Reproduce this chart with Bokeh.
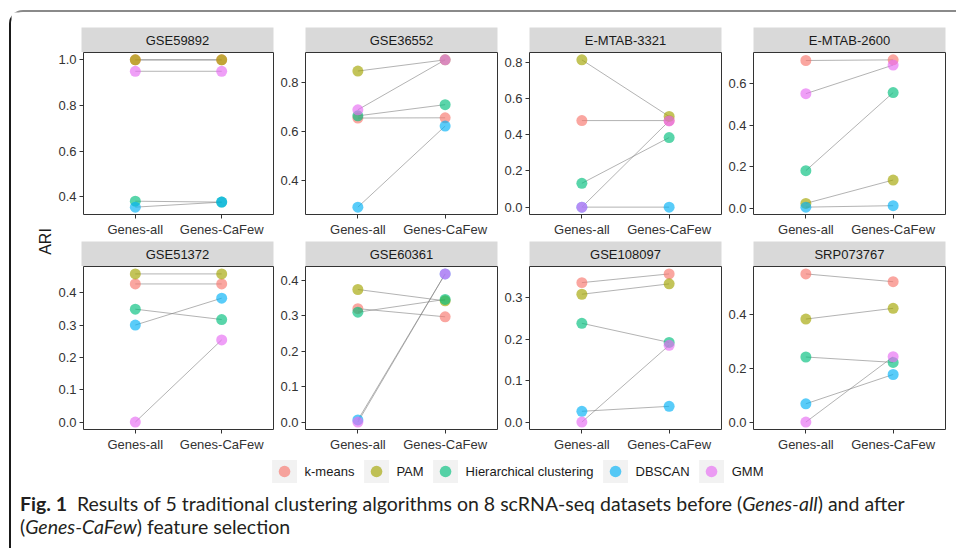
import math
import numpy as np
from bokeh.plotting import figure
from bokeh.models import (Range1d, FixedTicker, PrintfTickFormatter, ColumnDataSource,
                          Label, Legend, LegendItem, Div, Spacer)
from bokeh.layouts import row, column
from bokeh.embed import file_html
from bokeh.resources import INLINE
from bokeh.core.properties import value

# ---------------- data ----------------
CONDITIONS = ["Genes-all", "Genes-CaFew"]
ALGORITHMS = ["k-means", "PAM", "Hierarchical clustering", "DBSCAN", "GMM"]
COLORS = ["#F8766D", "#A3A500", "#00BF7D", "#00B0F6", "#E76BF3"]

DATASETS_ROW1 = ["GSE59892", "GSE36552", "E-MTAB-3321", "E-MTAB-2600"]
DATASETS_ROW2 = ["GSE51372", "GSE60361", "GSE108097", "SRP073767"]

# ARI values, order: k-means, PAM, Hierarchical clustering, DBSCAN, GMM
GSE59892_ALL = [1.000, 1.000, 0.381, 0.355, 0.950]
GSE59892_CAFEW = [1.000, 1.000, 0.377, 0.377, 0.950]
GSE36552_ALL = [0.655, 0.848, 0.664, 0.289, 0.689]
GSE36552_CAFEW = [0.656, 0.894, 0.710, 0.622, 0.894]
EMTAB3321_ALL = [0.479, 0.815, 0.132, 0.000, 0.000]
EMTAB3321_CAFEW = [0.479, 0.502, 0.385, 0.000, 0.477]
EMTAB2600_ALL = [0.710, 0.025, 0.182, 0.007, 0.551]
EMTAB2600_CAFEW = [0.713, 0.137, 0.556, 0.014, 0.688]
GSE51372_ALL = [0.427, 0.458, 0.349, 0.300, 0.000]
GSE51372_CAFEW = [0.427, 0.458, 0.317, 0.383, 0.254]
GSE60361_ALL = [0.320, 0.374, 0.310, 0.006, 0.000]
GSE60361_CAFEW = [0.297, 0.342, 0.346, 0.418, 0.418]
GSE108097_ALL = [0.336, 0.308, 0.238, 0.026, 0.000]
GSE108097_CAFEW = [0.357, 0.333, 0.192, 0.038, 0.185]
SRP073767_ALL = [0.551, 0.383, 0.242, 0.068, 0.000]
SRP073767_CAFEW = [0.522, 0.423, 0.222, 0.177, 0.243]

# y tick values per panel
GSE59892_TICKS = [0.4, 0.6, 0.8, 1.0]
GSE36552_TICKS = [0.4, 0.6, 0.8]
EMTAB3321_TICKS = [0.0, 0.2, 0.4, 0.6, 0.8]
EMTAB2600_TICKS = [0.0, 0.2, 0.4, 0.6]
GSE51372_TICKS = [0.0, 0.1, 0.2, 0.3, 0.4]
GSE60361_TICKS = [0.0, 0.1, 0.2, 0.3, 0.4]
GSE108097_TICKS = [0.0, 0.1, 0.2, 0.3]
SRP073767_TICKS = [0.0, 0.2, 0.4]

ROW1 = [(GSE59892_ALL, GSE59892_CAFEW, GSE59892_TICKS),
        (GSE36552_ALL, GSE36552_CAFEW, GSE36552_TICKS),
        (EMTAB3321_ALL, EMTAB3321_CAFEW, EMTAB3321_TICKS),
        (EMTAB2600_ALL, EMTAB2600_CAFEW, EMTAB2600_TICKS)]
ROW2 = [(GSE51372_ALL, GSE51372_CAFEW, GSE51372_TICKS),
        (GSE60361_ALL, GSE60361_CAFEW, GSE60361_TICKS),
        (GSE108097_ALL, GSE108097_CAFEW, GSE108097_TICKS),
        (SRP073767_ALL, SRP073767_CAFEW, SRP073767_TICKS)]

# ---------------- style ----------------
FONT = "Liberation Sans"
FRAME_W = 192
LEFTS = [26, 31, 31, 31]
RIGHT = 1
BOTTOM = 27
STRIP_H = 25
TOP1 = 15


def make_strip(name, top, left):
    s = figure(width=left + FRAME_W + RIGHT, height=STRIP_H + top,
               x_range=Range1d(0, 1), y_range=Range1d(0, 1),
               x_axis_location=None, y_axis_location=None,
               min_border_left=left, min_border_right=RIGHT,
               min_border_top=top, min_border_bottom=0,
               background_fill_color="#d9d9d9", border_fill_color="white",
               outline_line_color=None, title=None,
               output_backend="svg", toolbar_location=None)
    s.grid.visible = False
    s.text(x=[0.5], y=[0.5], text=[name], text_align="center", text_baseline="middle",
           text_font=value(FONT), text_font_size="13px", text_color="#1a1a1a")
    return s


def make_panel(all_vals, cafew_vals, ticks, frame_h, left):
    vals = all_vals + cafew_vals
    lo, hi = min(vals), max(vals)
    pad = 0.05 * (hi - lo)
    p = figure(width=left + FRAME_W + RIGHT, height=frame_h + BOTTOM,
               x_range=Range1d(0.4, 2.6), y_range=Range1d(lo - pad, hi + pad),
               min_border_left=left, min_border_right=RIGHT,
               min_border_top=0, min_border_bottom=BOTTOM,
               outline_line_color="#333333", outline_line_width=1,
               background_fill_color="white", border_fill_color="white",
               title=None, output_backend="svg", toolbar_location=None)
    p.grid.visible = False
    xs = [i + 1 for i in range(len(CONDITIONS))]
    for a, c in zip(all_vals, cafew_vals):
        p.line(xs, [a, c], line_color="#808080", line_alpha=0.6, line_width=1)
    src = ColumnDataSource(dict(x=[xs[0]] * len(all_vals) + [xs[1]] * len(cafew_vals),
                                y=all_vals + cafew_vals, c=COLORS + COLORS))
    p.scatter("x", "y", source=src, size=11, fill_color="c", fill_alpha=0.65,
              line_color=None)
    p.xaxis.ticker = FixedTicker(ticks=xs)
    p.xaxis.major_label_overrides = {x: lab for x, lab in zip(xs, CONDITIONS)}
    p.yaxis.ticker = FixedTicker(ticks=ticks)
    p.yaxis.formatter = PrintfTickFormatter(format="%.1f")
    for ax in (p.xaxis[0], p.yaxis[0]):
        ax.axis_line_color = None
        ax.major_tick_out = 4
        ax.major_tick_in = 0
        ax.minor_tick_out = 0
        ax.minor_tick_in = 0
        ax.major_tick_line_color = "#333333"
        ax.major_label_text_font = FONT
        ax.major_label_text_font_size = "13px"
        ax.major_label_text_color = "#333333"
        ax.major_label_standoff = 3
    return p


strips1 = row(*[make_strip(n, TOP1, l) for n, l in zip(DATASETS_ROW1, LEFTS)])
panels1 = row(*[make_panel(a, c, t, 162, l) for (a, c, t), l in zip(ROW1, LEFTS)])
strips2 = row(*[make_strip(n, 0, l) for n, l in zip(DATASETS_ROW2, LEFTS)])
panels2 = row(*[make_panel(a, c, t, 163, l) for (a, c, t), l in zip(ROW2, LEFTS)])
grid = column(strips1, panels1, strips2, panels2)

GRID_H = (STRIP_H + TOP1) + (162 + BOTTOM) + STRIP_H + (163 + BOTTOM)
ARI_W = 44
ari = figure(width=ARI_W, height=GRID_H, x_range=Range1d(0, ARI_W), y_range=Range1d(0, GRID_H),
             x_axis_location=None, y_axis_location=None, outline_line_color=None,
             min_border_left=0, min_border_right=0, min_border_top=0, min_border_bottom=0,
             title=None, output_backend="svg", toolbar_location=None)
ari.grid.visible = False
ari.add_layout(Label(x=34, y=GRID_H - 229, text="ARI", angle=math.pi / 2,
                     text_align="center", text_baseline="middle",
                     text_font=FONT, text_font_size="16px", text_color="#1a1a1a"))

top_block = row(ari, grid)

# legend
LG_W = 945
lg = figure(width=LG_W, height=30, x_range=Range1d(0, 1), y_range=Range1d(0, 1),
            x_axis_location=None, y_axis_location=None, outline_line_color=None,
            min_border_left=65, min_border_right=0, min_border_top=0, min_border_bottom=0,
            title=None, output_backend="svg", toolbar_location=None)
lg.grid.visible = False
nan = [np.nan]
items = []
for alg, col in zip(ALGORITHMS, COLORS):
    bg = lg.quad(left=nan, right=nan, top=nan, bottom=nan, fill_color="#f2f2f2",
                 line_color=None)
    dot = lg.scatter(x=nan, y=nan, size=10, fill_color=col, fill_alpha=0.65, line_color=None)
    items.append(LegendItem(label=alg, renderers=[bg, dot]))
legend = Legend(items=items, orientation="horizontal", location="center",
                glyph_width=31, glyph_height=29, label_standoff=5, spacing=6,
                padding=0, margin=0, border_line_color=None, background_fill_alpha=0,
                label_text_font=FONT, label_text_font_size="13px",
                label_text_color="#1a1a1a", label_height=20)
lg.add_layout(legend, "center")

caption = Div(width=LG_W, height=60, text=(
    '<div style="padding:1px 0 0 4px; font-family:Lato; font-size:19.5px; '
    'line-height:23px; color:#231f20; white-space:nowrap;">'
    '<b>Fig. 1</b>&nbsp; Results of 5 traditional clustering algorithms on 8 scRNA-seq '
    'datasets before (<i>Genes-all</i>) and after<br>'
    '(<i>Genes-CaFew</i>) feature selection</div>'))

boxed = column(top_block, lg, caption,
               styles={"border-top": "2px solid #8a8a8a", "border-left": "2px solid #1a1a1a",
                       "border-top-left-radius": "14px"})

page = column(Spacer(height=10), row(Spacer(width=9), boxed))

open("out.html", "w").write(file_html(page, INLINE))
